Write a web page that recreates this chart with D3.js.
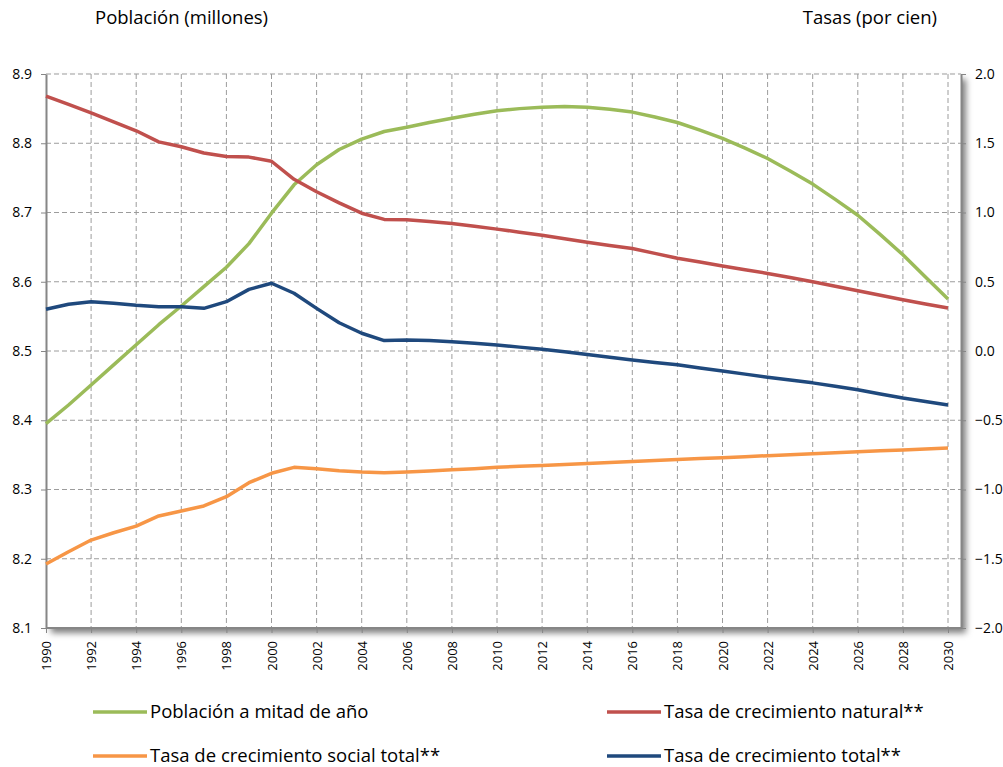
<!DOCTYPE html>
<html lang="es">
<head>
<meta charset="UTF-8">
<title>Población y tasas</title>
<script src="https://cdn.jsdelivr.net/npm/d3@7"></script>
<style>
  body { margin: 0; background: #fff; }
  svg { font-family: "Open Sans", "Liberation Sans", Arial, sans-serif; }
  .grid line { stroke: #9c9c9c; stroke-dasharray: 5,3; stroke-width: 1px; }
  .line { fill: none; stroke-width: 3.5px; stroke-linejoin: round; }
</style>
</head>
<body>
<script>
// data
var years = d3.range(1990, 2031);
var poblacion = [8.395, 8.422, 8.451, 8.480, 8.509, 8.538, 8.565, 8.593, 8.621, 8.655,
                 8.699, 8.740, 8.769, 8.791, 8.806, 8.817, 8.823, 8.830, 8.836, 8.842,
                 8.847, 8.850, 8.852, 8.853, 8.852, 8.849, 8.845, 8.838, 8.830, 8.819,
                 8.807, 8.793, 8.778, 8.760, 8.741, 8.719, 8.696, 8.668, 8.639, 8.607, 8.575];
var tasaNatural = [1.84, 1.78, 1.72, 1.655, 1.59, 1.51, 1.475, 1.43, 1.405, 1.40,
                   1.37, 1.24, 1.15, 1.07, 0.995, 0.95, 0.948, 0.935, 0.92, 0.90,
                   0.88, 0.858, 0.835, 0.81, 0.785, 0.762, 0.74, 0.705, 0.67, 0.642,
                   0.614, 0.587, 0.56, 0.53, 0.50, 0.468, 0.435, 0.402, 0.37, 0.34, 0.31];
var tasaSocial = [-1.538, -1.449, -1.365, -1.312, -1.264, -1.191, -1.155, -1.119, -1.052, -0.951,
                  -0.883, -0.84, -0.85, -0.864, -0.874, -0.879, -0.874, -0.867, -0.857, -0.85,
                  -0.84, -0.833, -0.826, -0.819, -0.812, -0.805, -0.798, -0.791, -0.784, -0.777,
                  -0.77, -0.763, -0.756, -0.749, -0.742, -0.735, -0.728, -0.721, -0.714, -0.707, -0.70];
var tasaTotal = [0.301, 0.337, 0.356, 0.344, 0.33, 0.32, 0.32, 0.308, 0.356, 0.445,
                 0.489, 0.417, 0.308, 0.204, 0.128, 0.075, 0.08, 0.075, 0.067, 0.056,
                 0.043, 0.028, 0.013, -0.005, -0.025, -0.045, -0.065, -0.083, -0.10, -0.122,
                 -0.144, -0.167, -0.19, -0.21, -0.23, -0.255, -0.28, -0.31, -0.34, -0.365, -0.39];
var leftTicks = [8.1, 8.2, 8.3, 8.4, 8.5, 8.6, 8.7, 8.8, 8.9];
var rightTicks = [-2.0, -1.5, -1.0, -0.5, 0.0, 0.5, 1.0, 1.5, 2.0];
var xTicks = d3.range(1990, 2031, 2);

var width = 1003, height = 767;
var plotLeft = 46, plotRight = 961, plotTop = 74, plotBottom = 628;

var x = d3.scaleLinear().domain([1990, 2030]).range([plotLeft, 948]);
var yL = d3.scaleLinear().domain([8.1, 8.9]).range([plotBottom, plotTop]);
var yR = d3.scaleLinear().domain([-2, 2]).range([plotBottom, plotTop]);

var svg = d3.select("body").append("svg")
    .attr("width", width)
    .attr("height", height);

// shadow behind the plot area
var defs = svg.append("defs");
var f = defs.append("filter").attr("id", "shadow")
    .attr("x", "-5%").attr("y", "-5%").attr("width", "115%").attr("height", "115%");
f.append("feDropShadow").attr("dx", 5).attr("dy", 5)
    .attr("stdDeviation", 3).attr("flood-color", "#000").attr("flood-opacity", 0.5);

svg.append("rect")
    .attr("x", plotLeft).attr("y", plotTop)
    .attr("width", plotRight - plotLeft).attr("height", plotBottom - plotTop)
    .attr("fill", "#fff")
    .attr("filter", "url(#shadow)");

// grid
var grid = svg.append("g").attr("class", "grid");
grid.selectAll(".h").data(leftTicks).enter().append("line")
    .attr("x1", plotLeft).attr("x2", plotRight)
    .attr("y1", function(d) { return yL(d); })
    .attr("y2", function(d) { return yL(d); });
grid.selectAll(".v").data(xTicks.slice(1)).enter().append("line")
    .attr("y1", plotTop).attr("y2", plotBottom)
    .attr("x1", function(d) { return x(d); })
    .attr("x2", function(d) { return x(d); });

// axes
var leftAxis = svg.append("g")
    .attr("transform", "translate(" + plotLeft + ",0)")
    .call(d3.axisLeft(yL).tickValues(leftTicks).tickFormat(d3.format(".1f"))
        .tickSize(5).tickSizeOuter(0).tickPadding(9));

var rightAxis = svg.append("g")
    .attr("transform", "translate(" + plotRight + ",0)")
    .call(d3.axisRight(yR).tickValues(rightTicks).tickFormat(d3.format(".1f"))
        .tickSize(5).tickSizeOuter(0).tickPadding(9));

var bottomAxis = svg.append("g")
    .attr("transform", "translate(0," + plotBottom + ")")
    .call(d3.axisBottom(x).tickValues(xTicks).tickFormat(d3.format("d"))
        .tickSize(5).tickSizeOuter(0));
bottomAxis.select(".domain").attr("d", "M" + plotLeft + ",0H" + plotRight);
bottomAxis.selectAll("text")
    .attr("transform", "rotate(-90)")
    .attr("x", -13).attr("y", 0).attr("dy", "0.35em")
    .style("text-anchor", "end");

[leftAxis, rightAxis, bottomAxis].forEach(function(a) {
    a.select(".domain").attr("stroke", "#868686").attr("stroke-width", 2);
    a.selectAll(".tick line").attr("stroke", "#868686");
    a.selectAll("text").attr("fill", "#000").style("font-size", "14px")
        .style("font-family", "'Open Sans', 'Liberation Sans', Arial, sans-serif");
});
bottomAxis.selectAll("text").style("font-size", "13px");
rightAxis.selectAll("text").style("text-anchor", "start");

// lines
var series = [
    {name: "Población a mitad de año", values: poblacion, color: "#9BBB59", y: yL},
    {name: "Tasa de crecimiento natural**", values: tasaNatural, color: "#C0504D", y: yR},
    {name: "Tasa de crecimiento social total**", values: tasaSocial, color: "#F79646", y: yR},
    {name: "Tasa de crecimiento total**", values: tasaTotal, color: "#1F497D", y: yR}
];

series.forEach(function(s) {
    var line = d3.line()
        .x(function(d, i) { return x(years[i]); })
        .y(function(d) { return s.y(d); });
    svg.append("path")
        .datum(s.values)
        .attr("class", "line")
        .style("stroke", s.color)
        .attr("d", line);
});

// axis titles
svg.append("text").attr("x", 95).attr("y", 24)
    .style("font-size", "18.5px").text("Población (millones)");
svg.append("text").attr("x", 937).attr("y", 24)
    .style("font-size", "18.5px").style("text-anchor", "end").text("Tasas (por cien)");

// legend
var legendPos = [[93, 712], [607, 712], [93, 756], [607, 756]];
var legend = svg.selectAll(".legend").data(series).enter().append("g")
    .attr("transform", function(d, i) { return "translate(" + legendPos[i][0] + "," + legendPos[i][1] + ")"; });
legend.append("line")
    .attr("x1", 0).attr("x2", 54)
    .attr("stroke", function(d) { return d.color; })
    .attr("stroke-width", 3.5);
legend.append("text")
    .attr("x", 57).attr("dy", "0.35em")
    .style("font-size", "18.5px")
    .text(function(d) { return d.name; });
</script>
</body>
</html>
